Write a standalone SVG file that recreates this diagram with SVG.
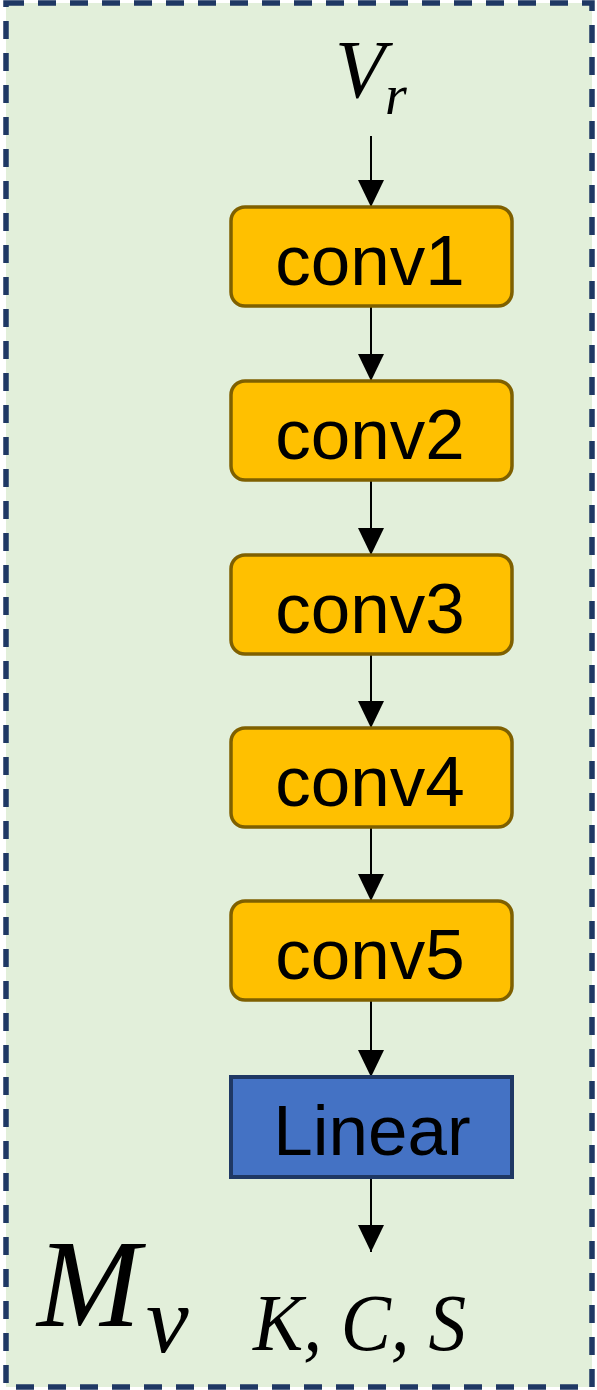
<svg xmlns="http://www.w3.org/2000/svg" width="597" height="1390" viewBox="0 0 597 1390">
<style>
.conv rect{fill:#FFC000;stroke:#7F6000;stroke-width:3.5}
.lin rect{fill:#4472C4;stroke:#1F3864;stroke-width:4}
.lbl{font-family:"Liberation Sans",Arial,sans-serif;font-size:71px;fill:#000;text-anchor:middle}
.math{font-family:"Liberation Serif","Times New Roman",serif;font-style:italic;fill:#000}
.conn line{stroke:#000;stroke-width:2;marker-end:url(#ah)}
</style>
<defs>
<marker id="ah" markerUnits="userSpaceOnUse" markerWidth="27" markerHeight="26" refX="27" refY="13" orient="auto" viewBox="0 0 27 26">
<path d="M0,0 L27,13 L0,26 Z" fill="#000"/>
</marker>
</defs>
<g id="frame">
<rect x="6" y="3" width="586" height="1384" fill="#E2EFDA" stroke="#1F3864" stroke-width="5.5" stroke-dasharray="18 14"/>
</g>
<g class="conn" id="connectors">
<line x1="371" y1="136" x2="371" y2="207"/>
<line x1="371" y1="306" x2="371" y2="381"/>
<line x1="371" y1="480" x2="371" y2="555"/>
<line x1="371" y1="654" x2="371" y2="728"/>
<line x1="371" y1="827" x2="371" y2="901"/>
<line x1="371" y1="1000" x2="371" y2="1077"/>
<line x1="371" y1="1177" x2="371" y2="1252"/>
</g>
<g id="input">
<text class="math" x="335" y="97" font-size="82">V</text>
<text class="math" x="385" y="114" font-size="56">r</text>
</g>
<g id="conv1" class="conv"><rect x="231" y="207" width="281" height="99" rx="14"/><text class="lbl" x="370" y="285">conv1</text></g>
<g id="conv2" class="conv"><rect x="231" y="381" width="281" height="99" rx="14"/><text class="lbl" x="370" y="459">conv2</text></g>
<g id="conv3" class="conv"><rect x="231" y="555" width="281" height="99" rx="14"/><text class="lbl" x="370" y="633">conv3</text></g>
<g id="conv4" class="conv"><rect x="231" y="728" width="281" height="99" rx="14"/><text class="lbl" x="370" y="806">conv4</text></g>
<g id="conv5" class="conv"><rect x="231" y="901" width="281" height="99" rx="14"/><text class="lbl" x="370" y="979">conv5</text></g>
<g id="linear" class="lin"><rect x="231" y="1077" width="281" height="100"/><text class="lbl" x="372" y="1155">Linear</text></g>
<g id="output">
<text class="math" x="253" y="1350" font-size="80" textLength="213" lengthAdjust="spacingAndGlyphs">K, C, S</text>
</g>
<g id="title">
<text class="math" x="37" y="1326" font-size="124">M</text>
<text class="math" x="146" y="1352" font-size="96">v</text>
</g>
</svg>
